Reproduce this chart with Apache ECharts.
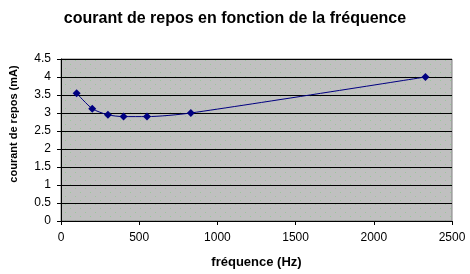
<!DOCTYPE html>
<html><head><meta charset="utf-8">
<script src="https://cdn.jsdelivr.net/npm/echarts@6/dist/echarts.min.js"></script>
<style>html,body{margin:0;padding:0;background:#fff}#c{width:470px;height:274px}</style>
</head><body><div id="c"></div>
<script>
const freq = [100, 200, 300, 400, 550, 830, 2330];
const current = [3.55, 3.12, 2.95, 2.9, 2.9, 3.0, 4.0];
const yTicks = [0, 0.5, 1, 1.5, 2, 2.5, 3, 3.5, 4, 4.5];
const xTicks = [0, 500, 1000, 1500, 2000, 2500];

const pc = document.createElement('canvas');
pc.width = 10; pc.height = 8;
const g = pc.getContext('2d');
g.fillStyle = '#c0c0c0'; g.fillRect(0,0,10,8);
g.fillStyle = '#99c899'; g.fillRect(0,0,1,1); g.fillRect(5,4,1,1);

const chart = echarts.init(document.getElementById('c'), null, {renderer:'canvas'});
chart.setOption({
  animation:false,
  backgroundColor:'#fff',
  title:{text:'courant de repos en fonction de la fréquence', left:'center', top:6,
    textStyle:{fontFamily:'Liberation Sans, Arial', fontSize:16, fontWeight:'bold', color:'#000'}},
  grid:{left:61, right:18, top:59, bottom:52, show:true, backgroundColor:{image:pc, repeat:'repeat'}, borderColor:'#808080', borderWidth:1},
  xAxis:{type:'value', min:0, max:2500, interval:500,
    name:'fréquence (Hz)', nameLocation:'middle', nameGap:35,
    nameTextStyle:{fontFamily:'Liberation Sans, Arial', fontSize:13, fontWeight:'bold', color:'#000'},
    axisLine:{lineStyle:{color:'#000'}}, axisTick:{show:true, length:4, lineStyle:{color:'#000'}},
    axisLabel:{fontFamily:'Liberation Sans, Arial', fontSize:12, color:'#000', margin:11, formatter:v=>xTicks.includes(v)?String(v):''},
    splitLine:{show:false}},
  yAxis:{type:'value', min:0, max:4.5, interval:0.5,
    name:'courant de repos (mA)', nameLocation:'middle', nameGap:42,
    nameTextStyle:{fontFamily:'Liberation Sans, Arial', fontSize:11, fontWeight:'bold', color:'#000', padding:[0,0,0,32]},
    axisLine:{show:true, lineStyle:{color:'#000'}}, axisTick:{show:true, length:4, lineStyle:{color:'#000'}},
    axisLabel:{fontFamily:'Liberation Sans, Arial', fontSize:12, color:'#000', margin:10, formatter:v=>yTicks.includes(v)?String(v):''},
    splitLine:{show:true, lineStyle:{color:'#000', width:1}}},
  series:[{type:'line', data:freq.map((f,i)=>[f,current[i]]), smooth:0.25,
    symbol:'diamond', symbolSize:8, lineStyle:{color:'#000080', width:1},
    itemStyle:{color:'#000080'}}]
});
</script></body></html>
